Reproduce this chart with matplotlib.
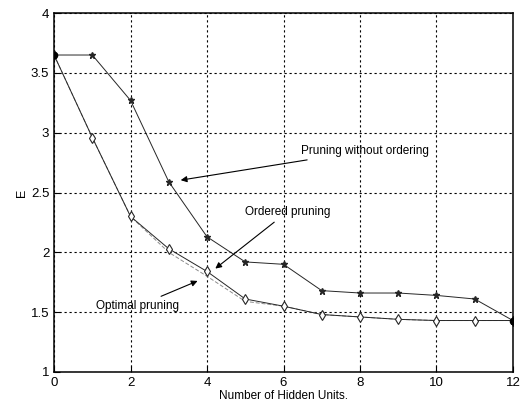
import numpy as np
import matplotlib.pyplot as plt

plt.rcParams['font.family'] = ['Liberation Sans', 'DejaVu Sans']

# error E against number of hidden units left after pruning
units = [0, 1, 2, 3, 4, 5, 6, 7, 8, 9, 10, 11, 12]
e_no_order = [3.65, 3.65, 3.27, 2.59, 2.13, 1.92, 1.90, 1.68, 1.66, 1.66, 1.64, 1.61, 1.43]
e_optimal = [3.65, 2.96, 2.30, 2.03, 1.84, 1.61, 1.55, 1.48, 1.46, 1.44, 1.43, 1.43, 1.43]
e_ordered = [3.65, 2.96, 2.30, 2.00, 1.80, 1.59, 1.55, 1.48, 1.46, 1.44, 1.43, 1.43, 1.43]

fig = plt.figure(figsize=(5.25, 4.11), dpi=100)
ax = fig.add_axes([0.103, 0.095, 0.874, 0.873])

ax.plot(units, e_ordered, color='0.55', lw=0.7, ls=(0, (4, 2)))
ax.plot(units, e_no_order, color='0.15', lw=0.7, marker='*', ms=5)
ax.plot(units, e_optimal, color='0.15', lw=0.7, marker='d', ms=5,
        markerfacecolor='white', markeredgewidth=0.8)
ax.plot([0, 12], [3.65, 1.43], ls='none', marker='o', ms=4.5, color='k')

ax.set_xlim(0, 12)
ax.set_ylim(1, 4)
ax.set_xticks(range(0, 13, 2))
ax.set_yticks([1, 1.5, 2, 2.5, 3, 3.5, 4])
ax.set_yticklabels(['1', '1.5', '2', '2.5', '3', '3.5', '4'])
ax.grid(True, color='k', ls=(0, (2, 2.5)), lw=0.8)
ax.tick_params(direction='in', labelsize=9.5, length=4)
for s in ax.spines.values():
    s.set_linewidth(1.1)

ax.set_xlabel('Number of Hidden Units.', fontsize=8.5, labelpad=1)
ax.set_ylabel('E', fontsize=9, labelpad=2)

arrow = dict(arrowstyle='-|>', color='k', lw=0.8, mutation_scale=9)
ax.annotate('Pruning without ordering', xy=(3.24, 2.60), xytext=(6.45, 2.80),
            fontsize=8.5, arrowprops=arrow, va='bottom',
            ha='left')
ax.annotate('Ordered pruning', xy=(4.16, 1.85), xytext=(4.99, 2.29),
            fontsize=8.5, arrowprops=arrow, va='bottom')
ax.annotate('Optimal pruning', xy=(3.82, 1.77), xytext=(1.1, 1.50),
            fontsize=8.5, arrowprops=arrow, va='bottom')

fig.savefig('out.png', dpi=100)
